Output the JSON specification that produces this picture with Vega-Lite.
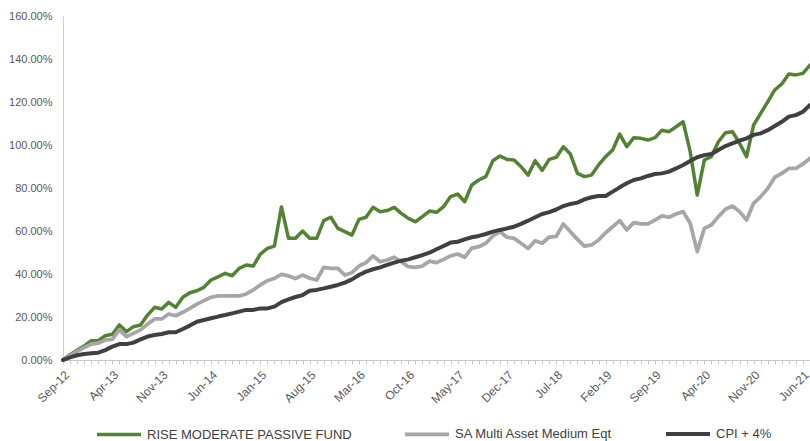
{
  "$schema": "https://vega.github.io/schema/vega-lite/v6.json",
  "width": 747,
  "height": 344,
  "autosize": {"type": "none"},
  "padding": {"left": 63, "top": 16, "right": 0, "bottom": 81},
  "background": "white",
  "config": {"view": {"stroke": null}, "font": "Liberation Sans"},
  "data": {
    "values": [
      {"m": "Sep-12", "g": 0, "s": 0, "c": 0},
      {"m": "Oct-12", "g": 2.5, "s": 2.0, "c": 1.2},
      {"m": "Nov-12", "g": 4.5, "s": 4.0, "c": 2.2},
      {"m": "Dec-12", "g": 6.5, "s": 5.8, "c": 2.8},
      {"m": "Jan-13", "g": 9.0, "s": 7.4, "c": 3.1},
      {"m": "Feb-13", "g": 9.0, "s": 7.8, "c": 3.4},
      {"m": "Mar-13", "g": 11.3, "s": 9.3, "c": 4.6},
      {"m": "Apr-13", "g": 12.0, "s": 9.6, "c": 6.2},
      {"m": "May-13", "g": 16.3, "s": 14.0, "c": 7.4},
      {"m": "Jun-13", "g": 13.2, "s": 10.9, "c": 7.4},
      {"m": "Jul-13", "g": 15.5, "s": 12.4, "c": 8.1},
      {"m": "Aug-13", "g": 16.3, "s": 14.0, "c": 9.6},
      {"m": "Sep-13", "g": 20.9, "s": 16.7, "c": 10.9},
      {"m": "Oct-13", "g": 24.5, "s": 19.1, "c": 11.6},
      {"m": "Nov-13", "g": 23.7, "s": 19.1, "c": 12.1},
      {"m": "Dec-13", "g": 26.8, "s": 21.4, "c": 12.9},
      {"m": "Jan-14", "g": 24.5, "s": 20.6, "c": 12.9},
      {"m": "Feb-14", "g": 29.2, "s": 22.2, "c": 14.4},
      {"m": "Mar-14", "g": 31.3, "s": 24.0, "c": 16.0},
      {"m": "Apr-14", "g": 32.2, "s": 26.0, "c": 17.8},
      {"m": "May-14", "g": 33.8, "s": 27.6, "c": 18.6},
      {"m": "Jun-14", "g": 37.2, "s": 29.2, "c": 19.4},
      {"m": "Jul-14", "g": 38.7, "s": 29.8, "c": 20.2},
      {"m": "Aug-14", "g": 40.3, "s": 29.8, "c": 20.9},
      {"m": "Sep-14", "g": 39.2, "s": 29.8, "c": 21.7},
      {"m": "Oct-14", "g": 42.6, "s": 29.8, "c": 22.5},
      {"m": "Nov-14", "g": 44.2, "s": 30.7, "c": 23.3},
      {"m": "Dec-14", "g": 43.7, "s": 32.6, "c": 23.3},
      {"m": "Jan-15", "g": 49.3, "s": 34.9, "c": 24.0},
      {"m": "Feb-15", "g": 51.9, "s": 36.9, "c": 24.0},
      {"m": "Mar-15", "g": 53.0, "s": 38.0, "c": 24.8},
      {"m": "Apr-15", "g": 71.2, "s": 39.8, "c": 26.9},
      {"m": "May-15", "g": 56.6, "s": 39.1, "c": 28.2},
      {"m": "Jun-15", "g": 56.6, "s": 37.9, "c": 29.3},
      {"m": "Jul-15", "g": 60.0, "s": 39.5, "c": 30.2},
      {"m": "Aug-15", "g": 56.6, "s": 38.0, "c": 32.2},
      {"m": "Sep-15", "g": 56.6, "s": 37.2, "c": 32.6},
      {"m": "Oct-15", "g": 64.8, "s": 43.1, "c": 33.3},
      {"m": "Nov-15", "g": 66.4, "s": 42.6, "c": 34.1},
      {"m": "Dec-15", "g": 61.2, "s": 42.6, "c": 34.9},
      {"m": "Jan-16", "g": 59.7, "s": 39.5, "c": 36.0},
      {"m": "Feb-16", "g": 58.1, "s": 40.6, "c": 37.5},
      {"m": "Mar-16", "g": 65.4, "s": 43.7, "c": 39.5},
      {"m": "Apr-16", "g": 66.4, "s": 45.3, "c": 41.1},
      {"m": "May-16", "g": 71.0, "s": 48.4, "c": 42.2},
      {"m": "Jun-16", "g": 69.0, "s": 45.7, "c": 43.1},
      {"m": "Jul-16", "g": 69.5, "s": 46.5, "c": 44.2},
      {"m": "Aug-16", "g": 71.0, "s": 47.8, "c": 45.3},
      {"m": "Sep-16", "g": 68.2, "s": 45.7, "c": 46.2},
      {"m": "Oct-16", "g": 65.9, "s": 43.4, "c": 46.8},
      {"m": "Nov-16", "g": 64.3, "s": 43.1, "c": 47.8},
      {"m": "Dec-16", "g": 66.7, "s": 43.7, "c": 48.8},
      {"m": "Jan-17", "g": 69.3, "s": 46.0, "c": 49.9},
      {"m": "Feb-17", "g": 68.7, "s": 45.3, "c": 51.5},
      {"m": "Mar-17", "g": 71.3, "s": 46.8, "c": 53.0},
      {"m": "Apr-17", "g": 76.0, "s": 48.4, "c": 54.6},
      {"m": "May-17", "g": 77.2, "s": 49.3, "c": 55.0},
      {"m": "Jun-17", "g": 73.6, "s": 47.8, "c": 56.1},
      {"m": "Jul-17", "g": 81.4, "s": 52.0, "c": 57.1},
      {"m": "Aug-17", "g": 83.7, "s": 52.7, "c": 57.7},
      {"m": "Sep-17", "g": 85.3, "s": 54.3, "c": 58.6},
      {"m": "Oct-17", "g": 92.7, "s": 57.7, "c": 59.7},
      {"m": "Nov-17", "g": 94.9, "s": 59.7, "c": 60.5},
      {"m": "Dec-17", "g": 93.3, "s": 57.1, "c": 61.2},
      {"m": "Jan-18", "g": 93.0, "s": 56.6, "c": 62.0},
      {"m": "Feb-18", "g": 89.9, "s": 54.3, "c": 63.3},
      {"m": "Mar-18", "g": 86.0, "s": 51.9, "c": 64.8},
      {"m": "Apr-18", "g": 92.7, "s": 55.5, "c": 66.4},
      {"m": "May-18", "g": 88.2, "s": 54.3, "c": 67.9},
      {"m": "Jun-18", "g": 93.3, "s": 57.2, "c": 68.8},
      {"m": "Jul-18", "g": 94.3, "s": 57.5, "c": 70.0},
      {"m": "Aug-18", "g": 99.2, "s": 63.3, "c": 71.6},
      {"m": "Sep-18", "g": 95.8, "s": 59.7, "c": 72.6},
      {"m": "Oct-18", "g": 86.8, "s": 56.1, "c": 73.2},
      {"m": "Nov-18", "g": 85.3, "s": 53.0, "c": 74.7},
      {"m": "Dec-18", "g": 86.0, "s": 53.5, "c": 75.7},
      {"m": "Jan-19", "g": 90.7, "s": 55.8, "c": 76.3},
      {"m": "Feb-19", "g": 94.6, "s": 59.2, "c": 76.3},
      {"m": "Mar-19", "g": 97.7, "s": 62.0, "c": 78.3},
      {"m": "Apr-19", "g": 105.1, "s": 64.8, "c": 80.3},
      {"m": "May-19", "g": 99.2, "s": 60.5, "c": 82.2},
      {"m": "Jun-19", "g": 103.4, "s": 63.9, "c": 83.7},
      {"m": "Jul-19", "g": 103.1, "s": 63.3, "c": 84.5},
      {"m": "Aug-19", "g": 102.3, "s": 63.3, "c": 85.6},
      {"m": "Sep-19", "g": 103.4, "s": 65.1, "c": 86.5},
      {"m": "Oct-19", "g": 106.9, "s": 67.0, "c": 86.8},
      {"m": "Nov-19", "g": 106.2, "s": 66.4, "c": 87.6},
      {"m": "Dec-19", "g": 108.5, "s": 67.9, "c": 89.1},
      {"m": "Jan-20", "g": 110.8, "s": 69.0, "c": 90.7},
      {"m": "Feb-20", "g": 96.9, "s": 63.6, "c": 92.6},
      {"m": "Mar-20", "g": 76.7, "s": 50.4, "c": 94.3},
      {"m": "Apr-20", "g": 93.0, "s": 61.2, "c": 95.3},
      {"m": "May-20", "g": 94.6, "s": 62.8, "c": 95.8},
      {"m": "Jun-20", "g": 101.5, "s": 66.7, "c": 97.7},
      {"m": "Jul-20", "g": 105.7, "s": 70.1, "c": 99.5},
      {"m": "Aug-20", "g": 106.2, "s": 71.6, "c": 100.8},
      {"m": "Sep-20", "g": 100.8, "s": 69.0, "c": 102.0},
      {"m": "Oct-20", "g": 94.6, "s": 65.1, "c": 103.1},
      {"m": "Nov-20", "g": 109.3, "s": 72.9, "c": 104.7},
      {"m": "Dec-20", "g": 114.7, "s": 76.0, "c": 105.4},
      {"m": "Jan-21", "g": 120.1, "s": 79.8, "c": 106.9},
      {"m": "Feb-21", "g": 125.6, "s": 85.0, "c": 108.8},
      {"m": "Mar-21", "g": 128.4, "s": 86.8, "c": 110.8},
      {"m": "Apr-21", "g": 133.0, "s": 89.1, "c": 113.2},
      {"m": "May-21", "g": 132.6, "s": 89.1, "c": 113.9},
      {"m": "Jun-21", "g": 133.3, "s": 91.2, "c": 115.5},
      {"m": "Jul-21", "g": 137.2, "s": 93.8, "c": 118.6}
    ]
  },
  "transform": [{"fold": ["g", "s", "c"], "as": ["key", "v"]}],
  "mark": {"type": "line", "strokeJoin": "round", "strokeCap": "round", "clip": false},
  "encoding": {
    "x": {
      "field": "m",
      "type": "ordinal",
      "sort": null,
      "scale": {"type": "point", "padding": 0},
      "axis": {
        "title": null,
        "labelAngle": -45,
        "labelExpr": "indexof(['Sep-12','Apr-13','Nov-13','Jun-14','Jan-15','Aug-15','Mar-16','Oct-16','May-17','Dec-17','Jul-18','Feb-19','Sep-19','Apr-20','Nov-20','Jun-21'], datum.value) >= 0 ? datum.value : ''",
        "labelOverlap": false,
        "labelFontSize": 12,
        "labelColor": "#595959",
        "labelPadding": 5,
        "tickSize": 4,
        "tickColor": "#C8C8C8",
        "domainColor": "#C8C8C8",
        "domainWidth": 1,
        "grid": false
      }
    },
    "y": {
      "field": "v",
      "type": "quantitative",
      "scale": {"domain": [0, 160], "nice": false},
      "axis": {
        "title": null,
        "values": [0, 20, 40, 60, 80, 100, 120, 140, 160],
        "labelExpr": "format(datum.value, '.2f') + '%'",
        "grid": false,
        "ticks": false,
        "labelPadding": 11,
        "labelFontSize": 11,
        "labelColor": "#595959",
        "domainColor": "#D0D0D0",
        "domainWidth": 1
      }
    },
    "color": {
      "field": "key",
      "type": "nominal",
      "scale": {"domain": ["g", "s", "c"], "range": ["#548235", "#A6A6A6", "#404040"]},
      "legend": {
        "title": null,
        "orient": "none",
        "legendX": 32,
        "legendY": 394,
        "direction": "horizontal",
        "symbolType": "stroke",
        "symbolSize": 1936,
        "symbolStrokeWidth": 4,
        "labelFontSize": 13,
        "labelColor": "#404040",
        "labelOffset": 4,
        "labelLimit": 400,
        "columnPadding": 45,
        "labelExpr": "datum.value == 'g' ? 'RISE MODERATE PASSIVE FUND' : datum.value == 's' ? 'SA Multi Asset Medium Eqt' : 'CPI + 4%'"
      }
    },
    "strokeWidth": {
      "field": "key",
      "type": "nominal",
      "scale": {"domain": ["g", "s", "c"], "range": [3.5, 4, 3.5]},
      "legend": null
    }
  }
}
